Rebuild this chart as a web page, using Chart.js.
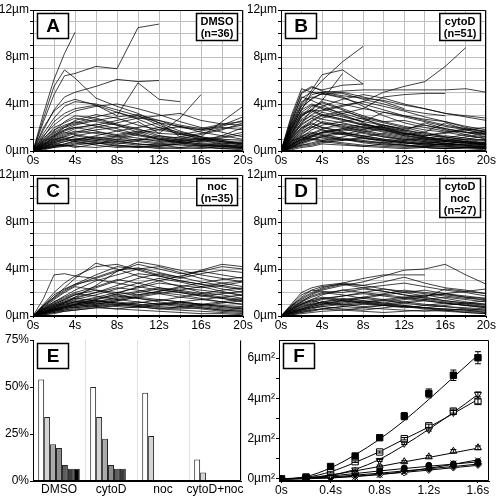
<!DOCTYPE html>
<html>
<head>
<meta charset="utf-8">
<script src="https://cdn.jsdelivr.net/npm/chart.js@4.4.1/dist/chart.umd.min.js"></script>
<style>
  html, body { margin: 0; padding: 0; background: #fff; }
  #fig { position: relative; width: 496px; height: 496px; overflow: hidden; }
  canvas { position: absolute; }
</style>
</head>
<body>
<div id="fig">
  <canvas id="cA" width="256" height="166" style="left:0;top:0"></canvas>
  <canvas id="cB" width="248" height="166" style="left:248px;top:0"></canvas>
  <canvas id="cC" width="256" height="166" style="left:0;top:165px"></canvas>
  <canvas id="cD" width="248" height="166" style="left:248px;top:165px"></canvas>
  <canvas id="cE" width="256" height="166" style="left:0;top:330px"></canvas>
  <canvas id="cF" width="256" height="166" style="left:240px;top:330px"></canvas>
</div>
<script>
// sample times (s) for the tracked distances
const times = [0, 1, 2, 3, 4, 6, 8, 10, 12, 14, 16, 18, 20];

// distance from start (um), one row per tracked particle
const dmsoTracks = [
  [0,3.2,6.1,8.3,10.1],
  [0,2.5,4.8,6.4,6.6,7.2,7.0,10.5,10.8],
  [0,1.8,3.5,4.6,5.0,5.5,6.1,5.9,6.0],
  [0,2.8,5.5,6.9,6.2,4.5,3.8,3.2,2.4,1.2,1.0,0.8,0.6],
  [0,1.2,2.5,3.2,3.6,3.9,3.0,5.8,4.4,4.2],
  [0,0.5,1.0,1.2,1.5,1.8,2.0,2.5,1.5,2.8,4.8],
  [0,0.8,1.5,2.0,2.6,3.1,2.8,2.2,1.8,1.5,1.2,2.5,3.8],
  [0,0.6,1.2,1.8,2.2,2.6,2.9,3.1,2.6,2.0,1.8,2.2,2.9],
  [0,1.5,2.8,3.8,4.2,4.0,3.5,3.0,2.2,1.5,1.0,0.8,0.5],
  [0,0.4,0.9,1.3,1.6,2.0,2.4,2.8,3.0,3.2,2.6,2.3,2.2],
  [0,1.0,2.0,2.4,2.8,2.5,2.2,1.6,1.0,0.8,0.6,0.5,0.3],
  [0,0.3,0.6,0.8,1.0,1.2,1.0,0.8,0.6,0.5,0.4,0.5,0.4],
  [0,0.5,0.9,1.2,1.1,0.9,0.7,0.5,0.6,0.8,1.0,1.2,1.6],
  [0,0.2,0.4,0.5,0.7,0.6,0.8,1.0,0.9,0.7,0.5,0.3,0.2],
  [0,0.7,1.4,1.8,2.0,1.7,1.3,1.1,0.8,1.0,1.4,1.8,2.4],
  [0,0.3,0.5,0.4,0.6,0.9,1.2,1.5,1.8,2.1,1.6,1.3,1.0],
  [0,0.9,1.6,2.1,2.4,2.9,3.3,2.7,2.0,1.4,1.1,0.9,0.7],
  [0,0.2,0.3,0.5,0.4,0.3,0.5,0.4,0.3,0.2,0.3,0.2,0.1],
  [0,0.6,1.1,1.5,1.9,2.3,1.9,1.4,1.0,0.7,0.5,0.4,0.3],
  [0,0.4,0.7,0.9,1.3,1.6,1.4,1.7,1.2,0.9,0.8,1.1,1.4],
  [0,1.3,2.2,2.9,3.4,3.8,4.0,3.6,3.1,2.5,2.0,1.6,1.2],
  [0,0.2,0.5,0.8,1.0,0.8,0.6,0.9,1.3,1.0,0.7,0.6,0.8],
  [0,0.5,0.8,1.0,0.8,0.5,0.3,0.4,0.2,0.3,0.5,0.4,0.2],
  [0,0.8,1.3,1.7,2.0,2.2,2.6,3.0,2.4,1.7,1.2,0.9,0.6],
  [0,0.3,0.4,0.6,0.8,1.1,0.9,0.6,0.4,0.6,0.9,1.3,2.0],
  [0,1.1,1.8,2.2,2.5,2.1,1.7,2.0,2.4,2.1,1.8,2.1,2.6],
  [0,0.4,0.6,0.5,0.3,0.6,1.0,1.4,1.1,0.8,0.6,0.5,0.4],
  [0,0.6,1.0,1.4,1.7,1.5,1.2,0.9,0.7,0.9,1.1,0.8,0.6],
  [0,2.0,3.4,4.1,4.4,3.9,3.3,2.8,2.6,2.2,1.9,2.3,2.5],
  [0,0.3,0.7,1.0,1.3,1.0,0.8,0.6,0.5,0.3,0.2,0.4,0.3],
  [0,0.5,1.2,1.6,1.4,1.1,1.3,1.6,2.0,1.6,1.2,1.0,0.9],
  [0,0.1,0.3,0.4,0.5,0.7,0.5,0.3,0.4,0.6,0.4,0.2,0.3],
  [0,0.9,1.7,2.5,3.0,2.8,2.3,1.9,1.3,1.1,0.9,0.7,0.5],
  [0,0.3,0.8,1.1,0.9,1.3,1.7,1.3,1.0,1.2,1.5,1.9,2.2],
  [0,0.7,1.3,2.0,2.3,2.7,2.2,1.8,1.5,1.4,1.7,2.0,1.8],
  [0,0.2,0.4,0.6,0.9,0.7,0.4,0.3,0.5,0.7,0.9,0.6,0.4]
];

const cytoDTracks = [
  [0,2.0,3.5,5.0,6.0,7.6,8.9],
  [0,1.5,3.0,3.5,3.4,3.8,4.2,5.0,5.5,5.9,7.2,8.8],
  [0,2.5,4.5,5.0,5.0,5.1,5.2,5.2,5.2,5.2,5.2,5.3,5.0],
  [0,2.2,4.0,5.2,6.5,6.9,5.7],
  [0,3.0,5.3,5.0,4.8,5.0,4.6,4.2,3.6],
  [0,2.8,5.0,5.5,5.1,4.9,4.4,4.0,3.5,3.2,3.0],
  [0,1.8,3.6,4.5,4.9,4.6,3.8,3.0,2.4,2.0,1.7,1.6,1.5],
  [0,1.2,2.4,3.5,4.2,3.6,3.0,2.5,2.6,2.2,1.8,1.4,1.0],
  [0,0.8,1.6,2.2,2.8,3.2,3.6,4.6,4.8,4.9,4.9],
  [0,1.5,3.0,3.8,4.1,3.5,2.8,2.0,1.5,1.2,0.9,0.8,0.6],
  [0,0.5,1.0,1.5,1.9,2.3,2.0,1.7,1.4,1.6,2.4,1.8,1.4],
  [0,2.4,4.6,4.3,3.9,3.1,2.4,1.8,1.3,1.0,0.8,0.7,0.5],
  [0,1.0,2.0,2.6,3.1,2.7,2.2,1.8,1.5,1.3,1.5,1.8,2.0],
  [0,0.6,1.2,1.8,2.2,2.5,2.8,2.4,2.0,1.6,1.2,0.9,0.7],
  [0,0.3,0.7,1.0,1.2,1.5,1.3,1.0,0.8,0.6,0.5,0.4,0.3],
  [0,1.7,3.3,3.9,3.6,3.0,2.5,3.3,3.0,2.7,2.5,2.0,1.6],
  [0,0.9,1.8,2.4,2.0,1.6,1.2,0.9,0.7,0.6,0.8,1.0,1.3],
  [0,0.4,0.8,1.2,1.6,1.9,1.5,1.2,1.0,0.8,0.6,0.5,0.5],
  [0,1.3,2.7,3.3,3.8,4.4,4.8,4.5,4.0,3.6,3.2,3.0,2.8],
  [0,0.7,1.3,1.6,1.4,1.1,0.9,0.7,0.5,0.4,0.3,0.3,0.2],
  [0,0.2,0.5,0.7,0.9,1.2,1.6,1.9,1.5,1.1,0.8,0.6,0.4],
  [0,2.0,3.9,4.8,5.0,4.7,4.5,4.3,3.9,3.6,3.2,2.9,2.6],
  [0,0.5,1.1,1.4,1.8,1.5,1.1,0.8,0.6,0.7,0.9,1.2,1.5],
  [0,1.1,2.3,2.8,2.4,2.0,1.6,1.2,0.9,0.7,0.5,0.4,0.4],
  [0,0.3,0.5,0.6,0.8,1.0,0.8,0.6,0.5,0.4,0.4,0.3,0.2],
  [0,1.6,3.1,3.4,3.0,2.6,2.2,2.0,1.7,2.4,1.9,1.6,1.2],
  [0,0.8,1.5,2.0,2.5,2.2,1.8,1.4,1.1,0.9,1.1,1.4,1.7],
  [0,0.4,0.9,1.3,1.1,0.9,1.2,1.5,1.2,0.9,0.6,0.5,0.3],
  [0,2.6,4.9,5.4,5.2,5.6,5.7],
  [0,1.4,2.9,3.6,4.3,6.6],
  [0,0.6,1.2,1.5,1.3,1.0,0.8,0.7,0.9,1.1,0.9,0.7,0.5],
  [0,0.2,0.4,0.5,0.7,0.9,1.1,0.9,0.7,0.5,0.6,0.8,0.6],
  [0,1.0,1.9,2.5,3.0,3.4,2.9,2.5,2.1,1.8,1.6,1.3,1.1],
  [0,0.5,0.9,1.2,1.5,1.8,2.1,1.8,1.4,1.0,0.7,0.5,0.3],
  [0,1.9,3.5,4.0,3.7,3.2,2.7,2.2,1.8,1.5,1.2,1.0,0.9],
  [0,0.3,0.6,0.9,1.2,1.0,0.7,0.5,0.4,0.3,0.2,0.3,0.4],
  [0,1.2,2.2,2.8,3.3,2.9,2.5,2.2,1.9,2.2,1.9,1.6,1.4],
  [0,0.7,1.4,2.0,2.4,2.1,1.7,1.3,1.0,0.8,0.6,0.5,0.6],
  [0,0.4,0.7,1.0,1.3,1.6,1.3,1.0,0.8,0.6,0.5,0.6,0.8],
  [0,2.3,4.2,4.6,4.4,4.0,3.6,3.3,2.9,2.5,2.1,1.8,1.5],
  [0,0.9,1.7,2.1,1.8,1.4,1.1,0.9,0.7,0.5,0.4,0.3,0.3],
  [0,0.1,0.3,0.4,0.6,0.5,0.4,0.6,0.5,0.3,0.2,0.3,0.2],
  [0,1.5,2.6,3.0,2.7,2.4,2.0,1.6,1.3,1.1,1.3,1.1,0.9],
  [0,0.6,1.0,1.3,1.6,1.9,2.3,2.0,1.6,1.2,0.9,0.7,0.6],
  [0,1.8,3.2,3.5,3.1,2.7,2.3,1.9,1.5,1.2,1.0,0.8,0.7],
  [0,0.3,0.8,1.1,0.9,0.7,0.5,0.4,0.3,0.4,0.6,0.8,1.0],
  [0,1.1,2.0,2.3,2.0,1.7,1.9,2.2,1.8,1.4,1.1,0.8,0.5],
  [0,0.8,1.2,1.0,0.8,0.6,0.4,0.3,0.2,0.3,0.2,0.2,0.1],
  [0,2.1,3.8,4.4,4.9,4.5,4.0,3.5,3.0,2.6,2.2,1.9,1.7],
  [0,0.5,1.0,1.3,1.6,1.4,1.8,2.1,1.7,1.3,1.6,1.9,1.6],
  [0,1.3,2.4,3.1,3.5,3.9,4.2,3.8,3.4,2.9,2.5,2.1,1.8]
];

const nocTracks = [
  [0,0.8,1.6,2.4,3.2,4.5,4.0,3.4,3.0,2.5,2.0,1.8,1.5],
  [0,1.5,3.5,3.6,3.4,3.2,3.8,4.6,4.3,3.9,3.5,3.2,2.9],
  [0,0.3,0.7,1.1,1.6,2.6,3.8,4.4,4.0,3.6,3.8,4.2,4.0],
  [0,0.4,0.8,1.2,1.5,2.0,2.6,3.2,3.6,3.3,3.9,4.4,4.2],
  [0,0.6,1.2,1.7,2.2,3.0,3.5,4.0,4.2,3.7,3.2,2.8,2.5],
  [0,0.2,0.5,0.8,1.0,1.4,1.9,2.5,3.0,3.4,3.8,3.5,3.2],
  [0,0.9,1.8,2.3,2.7,3.1,2.8,2.5,2.2,2.0,1.7,1.5,1.3],
  [0,0.4,0.6,0.9,1.2,1.6,2.0,2.4,2.8,2.6,2.4,2.6,2.9],
  [0,0.3,0.5,0.7,0.9,1.2,1.5,1.8,2.1,2.4,2.2,2.0,1.8],
  [0,0.5,0.9,1.3,1.6,2.0,2.4,2.2,1.9,1.6,1.4,1.2,1.0],
  [0,0.2,0.4,0.6,0.8,1.0,1.3,1.6,1.4,1.2,1.0,0.9,0.8],
  [0,0.7,1.4,2.0,2.5,2.2,1.8,1.5,1.2,1.0,0.8,0.6,0.5],
  [0,0.3,0.6,0.8,0.7,0.9,1.2,1.0,0.8,0.7,0.9,1.1,1.3],
  [0,0.1,0.3,0.5,0.6,0.8,1.0,1.2,1.0,0.8,0.6,0.4,0.3],
  [0,0.6,1.0,1.4,1.8,2.4,3.0,3.6,3.4,3.0,2.7,2.3,2.0],
  [0,0.4,0.8,1.1,1.3,1.1,0.9,1.1,1.4,1.2,1.0,0.8,0.6],
  [0,0.2,0.3,0.4,0.5,0.7,0.9,0.8,0.6,0.5,0.4,0.3,0.2],
  [0,0.5,1.0,1.4,1.8,2.2,2.0,1.8,2.1,2.5,2.8,3.1,3.3],
  [0,0.3,0.6,0.9,1.1,1.4,1.7,1.5,1.3,1.6,1.9,2.2,2.4],
  [0,0.8,1.5,2.1,2.6,3.3,3.9,4.1,3.7,3.3,2.9,2.6,2.3],
  [0,0.2,0.4,0.5,0.7,0.9,0.8,0.7,0.9,1.1,0.9,0.7,0.6],
  [0,0.4,0.7,1.0,1.2,1.5,1.8,2.1,2.4,2.2,1.9,1.6,1.4],
  [0,0.6,1.1,1.5,1.9,1.7,1.4,1.2,1.0,1.2,1.4,1.6,1.8],
  [0,0.3,0.5,0.6,0.8,1.1,1.4,1.7,2.0,1.8,1.5,1.2,1.0],
  [0,1.0,2.0,2.8,3.4,4.2,4.4,3.9,3.4,3.0,2.7,2.5,2.2],
  [0,0.2,0.4,0.7,1.0,1.3,1.1,0.9,0.7,0.6,0.7,0.5,0.4],
  [0,0.5,0.8,1.1,1.4,1.8,2.3,2.8,3.2,2.9,2.5,2.1,1.7],
  [0,0.3,0.7,1.0,1.2,1.0,1.3,1.6,1.9,2.2,2.5,2.8,3.0],
  [0,0.1,0.2,0.4,0.5,0.7,0.6,0.5,0.4,0.3,0.2,0.2,0.1],
  [0,0.7,1.2,1.6,2.0,2.5,3.1,2.8,2.4,2.1,1.8,1.5,1.2],
  [0,0.4,0.6,0.8,1.0,0.8,0.6,0.8,1.0,1.2,1.0,0.8,0.7],
  [0,0.9,1.6,2.2,2.7,3.5,4.2,4.0,3.5,3.2,3.6,3.9,3.7],
  [0,0.2,0.5,0.7,0.9,1.2,1.6,2.0,2.3,2.0,1.7,1.9,2.1],
  [0,0.6,0.9,1.2,1.5,1.3,1.1,0.9,1.1,0.9,0.7,0.5,0.4],
  [0,0.3,0.5,0.8,1.0,1.3,1.0,0.8,0.6,0.8,1.0,1.2,1.5]
];

const cytoDNocTracks = [
  [0,0.6,1.2,1.8,2.2,2.6,2.9,3.4,3.9,4.0,4.4,3.5,2.7],
  [0,1.0,2.0,2.4,2.6,2.8,3.2,3.5,3.5,3.5],
  [0,0.8,1.6,2.2,2.5,2.7,2.6,2.9,3.3,2.8,2.4,2.2,1.9],
  [0,0.5,1.0,1.4,1.8,2.2,2.4,2.6,2.8,2.5,2.2,2.0,1.7],
  [0,0.9,1.8,2.2,2.1,2.0,2.3,2.1,1.8,1.6,2.3,2.1,1.9],
  [0,0.4,0.8,1.1,1.4,1.7,2.0,2.3,2.1,1.9,1.7,1.5,1.4],
  [0,0.3,0.6,0.9,1.2,1.5,1.3,1.1,1.4,1.6,1.3,1.1,0.9],
  [0,0.2,0.4,0.6,0.8,1.0,1.2,1.4,1.6,1.8,1.5,1.2,1.0],
  [0,0.7,1.3,1.7,2.0,1.8,1.5,1.3,1.1,0.9,0.8,0.7,0.6],
  [0,0.3,0.5,0.7,0.9,1.1,1.3,1.1,0.9,0.7,0.6,0.5,0.4],
  [0,0.5,0.9,1.2,1.5,1.3,1.1,1.0,1.2,1.4,1.6,1.4,1.2],
  [0,0.1,0.3,0.4,0.6,0.8,1.0,0.9,0.8,0.7,0.6,0.5,0.3],
  [0,0.4,0.7,1.0,1.2,1.4,1.6,1.9,2.2,2.0,1.8,1.6,1.3],
  [0,0.2,0.4,0.5,0.6,0.5,0.7,0.9,0.8,0.6,0.5,0.4,0.3],
  [0,0.6,1.1,1.4,1.6,1.4,1.2,1.0,0.8,0.7,0.9,1.1,1.3],
  [0,0.3,0.6,0.8,1.0,1.2,1.5,1.8,1.6,1.4,1.2,1.0,0.8],
  [0,0.8,1.4,1.9,2.3,2.7,2.4,2.1,1.8,1.5,1.3,1.1,1.0],
  [0,0.2,0.3,0.5,0.6,0.8,0.7,0.6,0.5,0.4,0.5,0.6,0.5],
  [0,0.4,0.8,1.0,1.2,1.0,0.8,0.9,1.1,1.3,1.1,0.9,0.7],
  [0,0.1,0.2,0.3,0.4,0.5,0.4,0.3,0.4,0.5,0.4,0.3,0.2],
  [0,0.5,1.0,1.3,1.1,0.9,1.1,1.3,1.5,1.7,1.9,1.7,1.5],
  [0,0.3,0.5,0.8,1.0,1.3,1.6,1.4,1.2,1.0,0.8,0.6,0.5],
  [0,0.9,1.5,2.0,2.4,2.8,2.6,2.3,2.0,1.7,1.9,2.1,2.3],
  [0,0.2,0.5,0.7,0.8,0.6,0.5,0.7,0.9,0.7,0.5,0.3,0.2],
  [0,0.6,1.0,1.3,1.5,1.7,1.9,1.7,1.5,1.3,1.1,0.9,0.7],
  [0,0.4,0.6,0.9,1.1,1.3,1.1,0.9,0.7,0.9,1.1,0.9,0.8],
  [0,0.7,1.2,1.6,1.9,2.2,2.0,1.8,2.0,2.2,1.9,1.6,1.5]
];

// panel E: share of particles per distance bin (%)
const groups = ['DMSO', 'cytoD', 'noc', 'cytoD+noc'];
const binShares = [
  [54, 50, 47, 11.5],
  [34, 34, 24, 4.5],
  [19.5, 22.5, null, null],
  [17.5, 8.5, null, null],
  [8.5, 6.5, null, null],
  [6.5, 6.5, null, null],
  [6.5, null, null, null]
];
const binColors = ['#ffffff', '#d4d4d4', '#a9a9a9', '#8c8c8c', '#5e5e5e', '#3c3c3c', '#000000'];

// panel F: mean squared displacement (um^2) vs lag time
const lagTimes = [0, 0.2, 0.4, 0.6, 0.8, 1.0, 1.2, 1.4, 1.6];
const lagTicks = [0, 0.4, 0.8, 1.2, 1.6];
const msdTicks = [0, 1, 2, 3, 4, 5, 6];
const msdFilledSq = [0, 0.1, 0.62, 1.14, 2.05, 3.12, 4.25, 5.15, 6.02];
const errFilledSq = [0, 0.05, 0.07, 0.1, 0.13, 0.18, 0.22, 0.26, 0.3];
const fitFilledSq = [0, 0.12, 0.55, 1.2, 1.98, 2.9, 3.95, 5.05, 6.15];
const msdOpenSq = [0, 0.06, 0.33, 0.86, 1.34, 2.0, 2.64, 3.37, 3.85];
const errOpenSq = [0, 0.02, 0.03, 0.04, 0.05, 0.06, 0.08, 0.1, 0.12];
const fitOpenSq = [0, 0.08, 0.36, 0.82, 1.36, 1.98, 2.58, 3.25, 3.95];
const msdTriDown = [0, 0.03, 0.2, 0.45, 0.92, 1.77, 2.46, 3.3, 4.2];
const errTriDown = [0, 0.02, 0.03, 0.04, 0.05, 0.06, 0.08, 0.1, 0.12];
const fitTriDown = [0, 0.04, 0.18, 0.48, 0.98, 1.68, 2.47, 3.3, 4.2];
const msdTriUp = [0, 0.02, 0.17, 0.38, 0.65, 0.86, 1.1, 1.38, 1.55];
const errTriUp = [0, 0.01, 0.02, 0.03, 0.04, 0.05, 0.06, 0.08, 0.09];
const fitTriUp = [0, 0.05, 0.2, 0.4, 0.62, 0.85, 1.07, 1.3, 1.53];
const msdCross = [0, 0, 0.04, 0.1, 0.2, 0.35, 0.55, 0.78, 0.93];
const fitCross = [0, 0.01, 0.05, 0.12, 0.22, 0.36, 0.53, 0.73, 0.95];
const msdCircle = [0, 0.06, 0.16, 0.3, 0.45, 0.55, 0.68, 0.75, 0.86];
const fitCircle = [0, 0.05, 0.15, 0.27, 0.4, 0.52, 0.63, 0.74, 0.85];
const msdDiamond = [0, 0.03, 0.1, 0.2, 0.3, 0.42, 0.52, 0.63, 0.76];
const fitDiamond = [0, 0.03, 0.1, 0.19, 0.29, 0.4, 0.51, 0.62, 0.74];
const msdOpenDia = [0, 0.02, 0.06, 0.13, 0.22, 0.32, 0.45, 0.57, 0.7];
const fitOpenDia = [0, 0.02, 0.07, 0.14, 0.23, 0.33, 0.44, 0.56, 0.68];

Chart.defaults.font.family = '"Liberation Sans", Arial, Helvetica, sans-serif';
Chart.defaults.font.size = 12;
Chart.defaults.color = '#000';
Chart.defaults.animation = false;

// frame + letter box + condition box
const panelBox = {
  id: 'panelBox',
  afterDraw(chart, args, opts) {
    const ctx = chart.ctx, a = chart.chartArea;
    const L = Math.round(a.left) + 0.5, R = Math.round(a.right) - 0.5;
    const T = Math.round(a.top) + 0.5, B = Math.round(a.bottom) - 0.5;
    ctx.save();
    ctx.strokeStyle = '#000';
    ctx.lineWidth = 1;
    ctx.beginPath();
    if (opts.open) {
      ctx.moveTo(L, T); ctx.lineTo(L, B); ctx.lineTo(R, B); ctx.lineTo(R, T);
    } else {
      ctx.rect(L, T, R - L, B - T);
    }
    ctx.stroke();

    ctx.lineWidth = 1.5;
    ctx.fillStyle = '#fff';
    ctx.fillRect(L + 4, T + 3, 31, 25);
    ctx.strokeRect(L + 4, T + 3, 31, 25);
    ctx.fillStyle = '#000';
    ctx.font = 'bold 19px "Liberation Sans", Arial, sans-serif';
    ctx.textAlign = 'center';
    ctx.textBaseline = 'middle';
    ctx.fillText(opts.letter, L + 19.5, T + 16.5);

    if (opts.lines) {
      ctx.font = 'bold 11px "Liberation Sans", Arial, sans-serif';
      const w = Math.max(...opts.lines.map(t => ctx.measureText(t).width)) + 8;
      const h = opts.lines.length * 12 + 3;
      const x = R - 5 - w, y = T + 3;
      ctx.fillStyle = '#fff';
      ctx.fillRect(x, y, w, h);
      ctx.strokeRect(x, y, w, h);
      ctx.fillStyle = '#000';
      opts.lines.forEach((t, i) => ctx.fillText(t, x + w / 2, y + 8.5 + i * 12));
    }
    ctx.restore();
  }
};

// vertical error bars for datasets carrying an "errors" array
const errorBars = {
  id: 'errorBars',
  afterDatasetsDraw(chart) {
    const ctx = chart.ctx, ys = chart.scales.y;
    ctx.save();
    ctx.strokeStyle = '#000';
    ctx.lineWidth = 1;
    chart.data.datasets.forEach((ds, i) => {
      if (!ds.errors) return;
      const meta = chart.getDatasetMeta(i);
      meta.data.forEach((pt, j) => {
        const e = ds.errors[j];
        if (!e) return;
        const v = ds.data[j].y;
        const y1 = ys.getPixelForValue(v + e), y2 = ys.getPixelForValue(v - e);
        ctx.beginPath();
        ctx.moveTo(pt.x, y1); ctx.lineTo(pt.x, y2);
        ctx.moveTo(pt.x - 3, y1); ctx.lineTo(pt.x + 3, y1);
        ctx.moveTo(pt.x - 3, y2); ctx.lineTo(pt.x + 3, y2);
        ctx.stroke();
      });
    });
    ctx.restore();
  }
};

function trackChart(id, tracks, padRight, letter, lines) {
  new Chart(document.getElementById(id), {
    type: 'line',
    data: {
      datasets: tracks.map(tr => ({
        data: tr.map((y, i) => ({ x: times[i], y: y })),
        borderColor: '#000',
        borderWidth: 0.75,
        pointRadius: 0,
        tension: 0
      }))
    },
    options: {
      responsive: false,
      events: [],
      layout: { padding: { top: 10, right: padRight, left: 0, bottom: 0 } },
      plugins: { legend: { display: false }, tooltip: { enabled: false }, panelBox: { letter, lines } },
      scales: {
        x: {
          type: 'linear', min: 0, max: 20,
          afterFit: s => { s.height = 15; },
          ticks: { stepSize: 2, autoSkip: false, maxRotation: 0, padding: 0,
                   callback: v => (v % 4 === 0 ? v + 's' : '') },
          grid: { color: '#bdbdbd', tickLength: 2, tickColor: '#000' },
          border: { color: '#000' }
        },
        y: {
          min: 0, max: 12,
          afterFit: s => { s.width = 33; },
          ticks: { stepSize: 1, autoSkip: false, padding: 1,
                   callback: v => (v % 4 === 0 ? v + 'µm' : '') },
          grid: { color: '#bdbdbd', tickLength: 3, tickColor: '#000' },
          border: { color: '#000' }
        }
      }
    },
    plugins: [panelBox]
  });
}

trackChart('cA', dmsoTracks, 13, 'A', ['DMSO', '(n=36)']);
trackChart('cB', cytoDTracks, 7, 'B', ['cytoD', '(n=51)']);
trackChart('cC', nocTracks, 13, 'C', ['noc', '(n=35)']);
trackChart('cD', cytoDNocTracks, 7, 'D', ['cytoD', 'noc', '(n=27)']);

new Chart(document.getElementById('cE'), {
  type: 'bar',
  data: {
    labels: groups,
    datasets: binShares.map((d, i) => ({
      data: d,
      backgroundColor: binColors[i],
      borderColor: '#222',
      borderWidth: 1,
      categoryPercentage: 0.8,
      barPercentage: 1
    }))
  },
  options: {
    responsive: false,
    events: [],
    layout: { padding: { top: 10, right: 15, left: 0, bottom: 0 } },
    plugins: { legend: { display: false }, tooltip: { enabled: false }, panelBox: { letter: 'E', open: true } },
    scales: {
      x: {
        afterFit: s => { s.height = 15; },
        ticks: { padding: 1, autoSkip: false, maxRotation: 0, minRotation: 0 },
        grid: { color: '#e2e2e2', offset: true, drawTicks: false },
        border: { color: '#000' }
      },
      y: {
        min: 0, max: 75,
        afterFit: s => { s.width = 33; },
        ticks: { stepSize: 25, padding: 1, callback: v => v + '%' },
        grid: { drawOnChartArea: false, tickLength: 3, tickColor: '#000' },
        border: { color: '#000' }
      }
    }
  },
  plugins: [panelBox]
});

function pts(arr) { return arr.map((y, i) => ({ x: lagTimes[i], y: y })); }
function markers(arr, style, fill, radius, errs, rot) {
  return { data: pts(arr), showLine: false, pointStyle: style, pointRadius: radius,
           pointBackgroundColor: fill, pointBorderColor: '#000', pointBorderWidth: 1,
           pointRotation: rot || 0, errors: errs, order: 0 };
}
function fit(arr) {
  return { data: pts(arr), borderColor: '#000', borderWidth: 1, pointRadius: 0,
           cubicInterpolationMode: 'monotone', order: 1 };
}

new Chart(document.getElementById('cF'), {
  type: 'line',
  data: {
    datasets: [
      fit(fitFilledSq), fit(fitOpenSq), fit(fitTriDown), fit(fitTriUp),
      fit(fitCross), fit(fitCircle), fit(fitDiamond), fit(fitOpenDia),
      markers(msdFilledSq, 'rect', '#000', 4.5, errFilledSq),
      markers(msdOpenSq, 'rect', '#fff', 4.5, errOpenSq),
      markers(msdTriDown, 'triangle', '#fff', 4, errTriDown, 180),
      markers(msdTriUp, 'triangle', '#fff', 4, errTriUp),
      markers(msdCross, 'crossRot', '#000', 4),
      markers(msdCircle, 'circle', '#000', 3),
      markers(msdDiamond, 'rectRot', '#000', 3.5),
      markers(msdOpenDia, 'rectRot', '#fff', 3.5)
    ]
  },
  options: {
    responsive: false,
    events: [],
    layout: { padding: { top: 10, right: 7, left: 0, bottom: 0 } },
    plugins: { legend: { display: false }, tooltip: { enabled: false }, panelBox: { letter: 'F' } },
    scales: {
      x: {
        type: 'linear', min: -0.02, max: 1.69,
        afterFit: s => { s.height = 15; },
        afterBuildTicks: s => { s.ticks = lagTicks.map(v => ({ value: v })); },
        ticks: { padding: 0, maxRotation: 0, callback: v => v + 's' },
        grid: { drawOnChartArea: false, tickLength: 2, tickColor: '#000' },
        border: { color: '#000' }
      },
      y: {
        min: -0.1, max: 6.9,
        afterFit: s => { s.width = 39; },
        afterBuildTicks: s => { s.ticks = msdTicks.map(v => ({ value: v })); },
        ticks: { padding: 1, callback: v => (v % 2 === 0 ? v + 'µm²' : '') },
        grid: { drawOnChartArea: false, tickLength: 3, tickColor: '#000' },
        border: { color: '#000' }
      }
    }
  },
  plugins: [panelBox, errorBars]
});
</script>
</body>
</html>
